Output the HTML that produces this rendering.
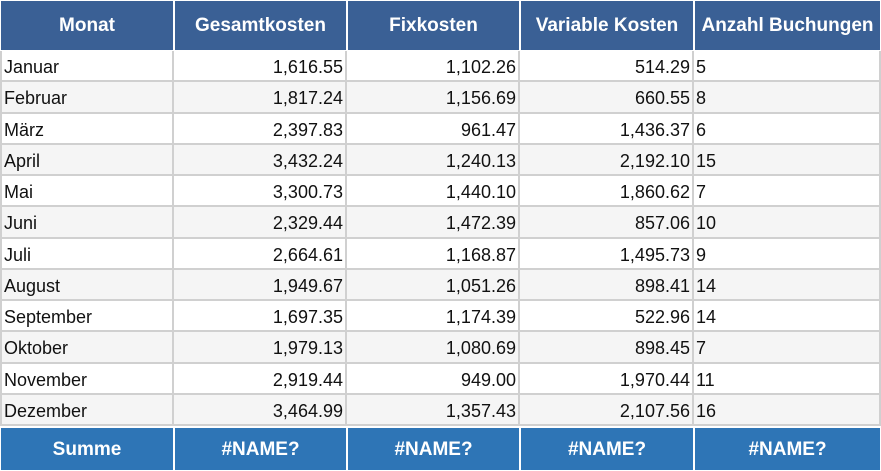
<!DOCTYPE html>
<html><head><meta charset="utf-8"><style>
body{margin:0;width:881px;height:471px;background:#fff;overflow:hidden;font-family:"Liberation Sans",sans-serif;}
.c{position:absolute;box-sizing:border-box;white-space:nowrap;overflow:hidden;}
.h{background:#3a6095;color:#fff;font-weight:bold;font-size:19px;text-align:center;line-height:50px;}
.f{background:#2e75b6;color:#fff;font-weight:bold;font-size:19px;text-align:center;line-height:44px;}
.d{font-size:18px;color:#111;line-height:33px;padding:0 2px;border-right:2px solid #d0d0d0;border-bottom:2px solid #d0d0d0;}
.r{text-align:right;}
</style></head><body>
<div id="t"></div>
<script>
var cols=[[0,174],[174,347],[347,520],[520,694],[694,881]];
var hd=["Monat","Gesamtkosten","Fixkosten","Variable Kosten","Anzahl Buchungen"];
var rows=[["Januar","1,616.55","1,102.26","514.29","5"],["Februar","1,817.24","1,156.69","660.55","8"],["März","2,397.83","961.47","1,436.37","6"],["April","3,432.24","1,240.13","2,192.10","15"],["Mai","3,300.73","1,440.10","1,860.62","7"],["Juni","2,329.44","1,472.39","857.06","10"],["Juli","2,664.61","1,168.87","1,495.73","9"],["August","1,949.67","1,051.26","898.41","14"],["September","1,697.35","1,174.39","522.96","14"],["Oktober","1,979.13","1,080.69","898.45","7"],["November","2,919.44","949.00","1,970.44","11"],["Dezember","3,464.99","1,357.43","2,107.56","16"]];
var ft=["Summe","#NAME?","#NAME?","#NAME?","#NAME?"];
var h="";
for(var j=0;j<5;j++){var x=cols[j][0],w=cols[j][1]-x-2;
h+='<div class="c h" style="left:'+(x+1)+'px;top:1px;width:'+w+'px;height:49px">'+hd[j]+'</div>';
h+='<div class="c f" style="left:'+(x+1)+'px;top:428px;width:'+w+'px;height:42px">'+ft[j]+'</div>';}
for(var i=0;i<12;i++){var y=Math.round(51+31.25*i),y2=Math.round(51+31.25*(i+1));
for(var j=0;j<5;j++){var x=cols[j][0],w=cols[j][1]-x;
h+='<div class="c d'+((j>0&&j<4)?' r':'')+'" style="left:'+x+'px;top:'+y+'px;width:'+w+'px;height:'+(y2-y)+'px;background:'+(i%2?'#f5f5f5':'#fff')+(j==0?';border-left:2px solid #d0d0d0':'')+'">'+rows[i][j]+'</div>';}}
document.getElementById("t").innerHTML=h;
</script>
</body></html>
